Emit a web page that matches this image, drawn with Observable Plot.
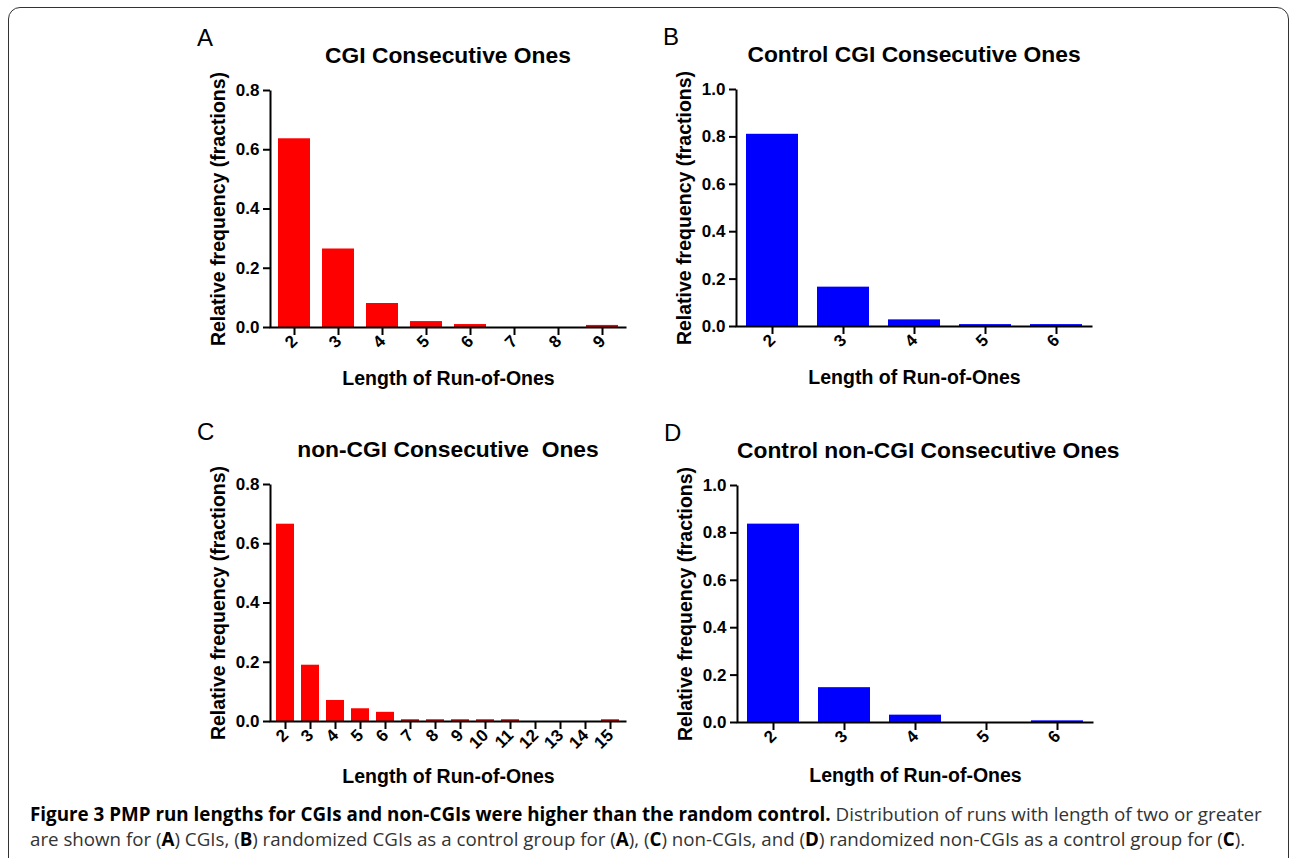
<!DOCTYPE html>
<html><head><meta charset="utf-8">
<script src="https://cdn.jsdelivr.net/npm/d3@7"></script>
<script src="https://cdn.jsdelivr.net/npm/@observablehq/plot@0.6"></script>
<style>
body{margin:0;width:1292px;height:858px;overflow:hidden;background:#fff;font-family:"Liberation Sans",Arial,sans-serif;position:relative}
.border{position:absolute;left:8px;top:7px;width:1281px;height:940px;border:1.6px solid #333;border-radius:12px;box-sizing:border-box}
.panel{position:absolute}
.letter{position:absolute;font-size:24px;line-height:24px;color:#000}
.title{position:absolute;font-weight:bold;font-size:22.8px;line-height:22px;text-align:center;white-space:pre;color:#000}
.caption{position:absolute;left:30px;white-space:nowrap;font-family:"Open Sans",sans-serif;font-size:19px;line-height:19px;color:#333;transform-origin:0 0}
.caption b{color:#000}
[aria-label="x-axis label"],[aria-label="y-axis label"]{font-size:19.5px}
</style></head>
<body>
<div class="border"></div>
<div id="root"></div>
<div class="caption" id="cap1" style="top:805px"><b>Figure 3 PMP run lengths for CGIs and non-CGIs were higher than the random control.</b> Distribution of runs with length of two or greater</div>
<div class="caption" id="cap2" style="top:830px">are shown for (<b>A</b>) CGIs, (<b>B</b>) randomized CGIs as a control group for (<b>A</b>), (<b>C</b>) non-CGIs, and (<b>D</b>) randomized non-CGIs as a control group for (<b>C</b>).</div>
<script>
// ---- data ----
const lengthsA = ["2","3","4","5","6","7","8","9"];
const freqA = [0.637, 0.265, 0.081, 0.020, 0.010, 0, 0, 0.007];
const lengthsB = ["2","3","4","5","6"];
const freqB = [0.811, 0.166, 0.028, 0.008, 0.008];
const lengthsC = ["2","3","4","5","6","7","8","9","10","11","12","13","14","15"];
const freqC = [0.666, 0.190, 0.071, 0.043, 0.031, 0.006, 0.006, 0.006, 0.006, 0.006, 0, 0, 0, 0.006];
const lengthsD = ["2","3","4","5","6"];
const freqD = [0.837, 0.147, 0.031, 0, 0.007];
const panelLetters = ["A","B","C","D"];
const panelTitles = ["CGI Consecutive Ones","Control CGI Consecutive Ones","non-CGI Consecutive  Ones","Control non-CGI Consecutive Ones"];
const yTicksA = [0, 0.2, 0.4, 0.6, 0.8];
const yTicksB = [0, 0.2, 0.4, 0.6, 0.8, 1.0];
const xLabel = "Length of Run-of-Ones";
const yLabel = "Relative frequency (fractions)";
const red = "#ff0000", blue = "#0000ff";

// ---- layout ----
const FW = 356, FH = 237;
const ML = 80, MT = 20, MR = 14, MB = 83;
const panels = [
  {lengths: lengthsA, freq: freqA, ticks: yTicksA, color: red,  fx: 270, fy: 90,  xoff: 57},
  {lengths: lengthsB, freq: freqB, ticks: yTicksB, color: blue, fx: 736, fy: 89,  xoff: 57},
  {lengths: lengthsC, freq: freqC, ticks: yTicksA, color: red,  fx: 270, fy: 484, xoff: 61},
  {lengths: lengthsD, freq: freqD, ticks: yTicksB, color: blue, fx: 737, fy: 485, xoff: 59}
];

const root = document.getElementById("root");
panels.forEach((p, i) => {
  const data = p.lengths.map((l, j) => ({len: l, freq: p.freq[j]}));
  const ymax = p.ticks[p.ticks.length - 1];
  const chart = Plot.plot({
    width: ML + FW + MR,
    height: MT + FH + MB,
    marginLeft: ML, marginRight: MR, marginTop: MT, marginBottom: MB,
    style: {fontFamily: "Liberation Sans, Arial, sans-serif", fontSize: "17px", fontWeight: "bold", color: "#000", background: "transparent", overflow: "visible"},
    x: {type: "band", domain: p.lengths, paddingInner: 0.27, paddingOuter: 0.13},
    y: {domain: [0, ymax]},
    marks: [
      Plot.barY(data, {x: "len", y: "freq", fill: p.color}),
      Plot.frame({stroke: "#000", strokeWidth: 2, strokeDasharray: `0 ${FW + FH} ${FW + FH}`}),
      Plot.axisX({tickSize: 8, tickPadding: 3, tickRotate: -45, strokeWidth: 2, fontSize: 17, label: xLabel, labelAnchor: "center", labelOffset: p.xoff}),
      Plot.axisY({ticks: p.ticks, tickFormat: d3.format(".1f"), tickSize: 7, tickPadding: 4, strokeWidth: 2, fontSize: 17, label: yLabel, labelAnchor: "center", labelOffset: 59, labelArrow: "none"})
    ]
  });
  const wrap = document.createElement("div");
  wrap.className = "panel";
  wrap.style.left = (p.fx - ML) + "px";
  wrap.style.top = (p.fy - MT) + "px";
  wrap.appendChild(chart);
  root.appendChild(wrap);

  const t = document.createElement("div");
  t.className = "title";
  t.textContent = panelTitles[i];
  t.style.left = (p.fx) + "px";
  t.style.width = FW + "px";
  t.style.top = (p.fy - 46) + "px";
  root.appendChild(t);

  const L = document.createElement("div");
  L.className = "letter";
  L.textContent = panelLetters[i];
  L.style.left = (p.fx - 73) + "px";
  L.style.top = (p.fy - 64) + "px";
  root.appendChild(L);
});

function fitCaption(id, target) {
  const el = document.getElementById(id);
  const w = el.offsetWidth;
  el.style.transform = `scaleX(${target / w})`;
}
function fitAll() { fitCaption("cap1", 1232); fitCaption("cap2", 1215); }
fitAll();
if (document.fonts && document.fonts.ready) document.fonts.ready.then(fitAll);
</script>
</body></html>
